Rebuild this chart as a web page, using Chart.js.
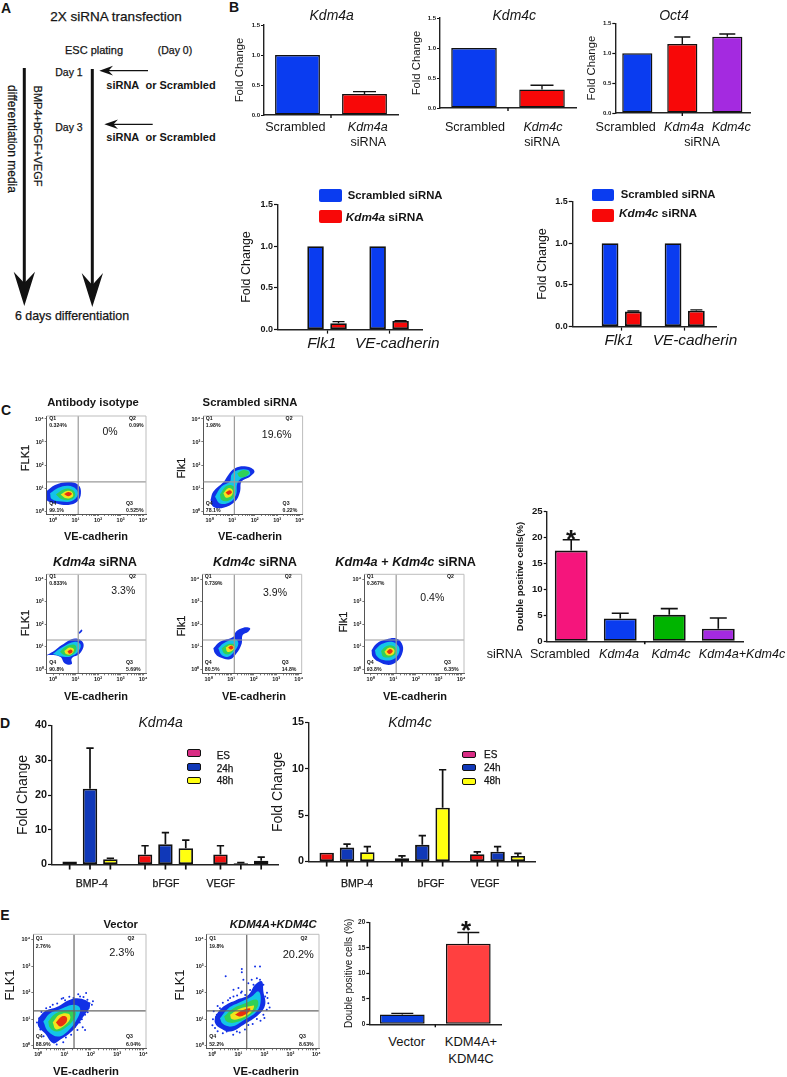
<!DOCTYPE html>
<html>
<head>
<meta charset="utf-8">
<title>siRNA figure</title>
<script src="https://cdn.jsdelivr.net/npm/chart.js@4/dist/chart.umd.min.js"></script>
<style>
  html, body { margin: 0; padding: 0; background: #fff; }
  #page { position: relative; width: 787px; height: 1077px; overflow: hidden; font-family: "Liberation Sans", Arial, sans-serif; color: #151515; }
  #page canvas { position: absolute; }
  .note { position: absolute; white-space: nowrap; line-height: 1; }
  .swatch { position: absolute; border-radius: 2px; box-sizing: border-box; }
  svg { position: absolute; left: 0; top: 0; }
</style>
</head>
<body>
<div id="page">
  <svg width="240" height="330" viewBox="0 0 240 330">
    <line x1="24.3" y1="68" x2="24.3" y2="285" stroke="#111" stroke-width="3"/>
    <polygon points="24.3,306 13.7,271.7 24.3,283 35,271.7" fill="#111"/>
    <line x1="92.3" y1="69" x2="92.3" y2="286" stroke="#111" stroke-width="3"/>
    <polygon points="92.3,307 81.7,273 92.3,285 103,273" fill="#111"/>
    <line x1="148" y1="70.7" x2="106" y2="70.7" stroke="#111" stroke-width="1.3"/>
    <polygon points="99.3,70.7 113,65.8 108.5,70.7 113,75.5" fill="#111"/>
    <line x1="152.7" y1="124.3" x2="111" y2="124.3" stroke="#111" stroke-width="1.3"/>
    <polygon points="104.3,124.3 118,119.4 113.5,124.3 118,129.1" fill="#111"/>
  </svg>
</div>
<script>
// ---- panel B, top row
const scrambledA = ['Scrambled', 'Kdm4a'];
const kdm4aKnock = [1.0, 0.35];
const kdm4aKnockTop = [null, 0.39];
const scrambledC = ['Scrambled', 'Kdm4c'];
const kdm4cKnock = [1.0, 0.31];
const kdm4cKnockTop = [null, 0.38];
const oct4Labels = ['Scrambled', 'Kdm4a', 'Kdm4c'];
const oct4Values = [1.0, 1.155, 1.275];
const oct4Top = [null, 1.27, 1.32];
// ---- panel B, bottom row
const markerLabels = ['Flk1', 'VE-cadherin'];
const scrambledA2 = [1.0, 1.0];
const kdm4aMarkers = [0.076, 0.104];
const kdm4aMarkersTop = [0.096, 0.108];
const scrambledC2 = [1.0, 1.0];
const kdm4cMarkers = [0.18, 0.19];
const kdm4cMarkersTop = [0.187, 0.2];
// ---- panel C bar
const doubleLabels = ['Scrambled', 'Kdm4a', 'Kdm4c', 'Kdm4a+Kdm4c'];
const doubleValues = [17.5, 4.4, 5.1, 2.4];
const doubleTop = [19.6, 5.4, 6.3, 4.5];
// ---- panel D
const factors = ['BMP-4', 'bFGF', 'VEGF'];
const timeNames = ['ES', '24h', '48h'];
const dAes = [0.9, 2.9, 2.9];
const dAesTop = [null, 5.4, 5.4];
const dA24 = [21.8, 5.8, 0.4];
const dA24Top = [33.5, 9.2, 0.55];
const dA48 = [1.5, 4.7, 1.1];
const dA48Top = [1.8, 7.0, 2.1];
const dCes = [0.95, 0.35, 0.78];
const dCesTop = [null, 0.6, 1.03];
const dC24 = [1.5, 1.8, 1.05];
const dC24Top = [1.87, 2.8, 1.6];
const dC48 = [1.0, 5.8, 0.6];
const dC48Top = [1.6, 9.9, 0.88];
// ---- panel E bar
const rescueLabels = ['Vector'];
const rescueValues = [1.9, 15.8];
const rescueTop = [2.15, 18];

// flow plots: density contours in decades (log10), outermost band first
const isotypeBands = [0, 1, 2, 3, 4];
const isotypeContours = [
  [[-0.28,0.87],[0.09,1.13],[0.68,1.26],[1.13,1.13],[1.24,0.77],[1.08,0.41],[0.68,0.26],[0.16,0.33],[-0.28,0.48]],
  [[-0.13,0.77],[0.24,1.01],[0.68,1.1],[1.02,0.96],[1.1,0.7],[0.83,0.43],[0.39,0.41],[-0.06,0.52]],
  [[0.13,0.72],[0.46,0.94],[0.83,0.94],[0.99,0.72],[0.83,0.51],[0.39,0.51]],
  [[0.34,0.72],[0.61,0.87],[0.86,0.81],[0.87,0.62],[0.58,0.55]],
  [[0.49,0.74],[0.68,0.83],[0.84,0.75],[0.68,0.64]]
];
const scrambledBands = [0, 1, 2, 2, 3, 4];
const scrambledContours = [
  [[0.04,0.48],[0.16,0.84],[0.61,1.25],[0.83,1.57],[1.13,1.86],[1.64,1.93],[1.99,1.74],[1.79,1.49],[1.42,1.28],[1.35,0.84],[1.13,0.41],[0.61,0.14],[0.16,0.19]],
  [[0.24,0.62],[0.53,1.06],[0.9,1.28],[0.98,1.59],[1.27,1.78],[1.72,1.78],[1.79,1.59],[1.42,1.42],[1.23,1.2],[1.17,0.7],[0.9,0.38],[0.46,0.33]],
  [[0.46,0.72],[0.76,1.1],[1.08,1.06],[1.11,0.7],[0.83,0.45],[0.53,0.48]],
  [[1.23,1.64],[1.5,1.78],[1.76,1.68],[1.57,1.49],[1.32,1.49]],
  [[0.61,0.77],[0.83,0.99],[1.02,0.91],[0.98,0.67],[0.73,0.58]],
  [[0.71,0.8],[0.9,0.9],[0.99,0.8],[0.83,0.7]]
];
const kdm4aBands = [0, 0, 1, 2, 3, 4];
const kdm4aContours = [
  [[-0.28,0.62],[0.09,0.84],[0.39,1.07],[0.98,1.36],[1.35,1.14],[1.2,0.7],[0.83,0.47],[0.83,0.22],[0.53,0.25],[0.31,0.55]],
  [[1.13,1.61],[1.27,1.76],[1.3,1.69],[1.17,1.57]],
  [[-0.01,0.67],[0.39,0.96],[0.98,1.21],[1.23,1.07],[1.08,0.73],[0.76,0.55],[0.46,0.55]],
  [[0.31,0.77],[0.61,1.02],[0.98,1.07],[1.02,0.81],[0.76,0.59],[0.49,0.62]],
  [[0.5,0.8],[0.73,0.96],[0.93,0.87],[0.79,0.65],[0.58,0.67]],
  [[0.64,0.79],[0.79,0.87],[0.87,0.77],[0.73,0.68]]
];
const kdm4cBands = [0, 1, 2, 3, 4];
const kdm4cContours = [
  [[0.21,0.92],[0.5,1.21],[1.1,1.44],[1.21,1.66],[1.54,1.84],[1.84,1.81],[1.76,1.66],[1.51,1.51],[1.47,1.14],[1.24,0.7],[0.95,0.43],[0.5,0.52],[0.28,0.7]],
  [[0.43,0.92],[0.65,1.14],[1.17,1.32],[1.32,1.14],[1.13,0.77],[0.87,0.55],[0.58,0.62]],
  [[0.58,0.92],[0.87,1.11],[1.17,1.07],[1.1,0.81],[0.87,0.65],[0.68,0.7]],
  [[0.76,0.96],[0.98,1.07],[1.14,0.96],[1.02,0.8],[0.83,0.77]],
  [[0.87,0.96],[1.02,1.04],[1.1,0.95],[0.98,0.87]]
];
const doubleBands = [0, 1, 2, 3, 4];
const doubleContours = [
  [[0.04,0.84],[0.27,1.14],[0.71,1.32],[1.13,1.36],[1.38,1.14],[1.42,0.77],[1.16,0.33],[0.79,0.18],[0.34,0.33],[0.09,0.55]],
  [[0.19,0.84],[0.49,1.11],[0.93,1.21],[1.23,1.02],[1.26,0.73],[1.01,0.43],[0.56,0.4],[0.27,0.58]],
  [[0.46,0.8],[0.71,1.02],[1.01,1.02],[1.16,0.77],[0.93,0.55],[0.56,0.55]],
  [[0.61,0.77],[0.81,0.95],[1.04,0.87],[1.01,0.67],[0.74,0.61]],
  [[0.71,0.77],[0.86,0.89],[0.98,0.79],[0.83,0.67]]
];
const vectorBands = [0, 1, 2, 3, 4];
const vectorContours = [
  [[0,1.04],[0.25,1.3],[0.7,1.46],[1.21,1.74],[1.65,1.77],[1.97,1.55],[1.72,1.11],[1.27,0.54],[0.83,0.23],[0.57,0.1],[0.25,0.48],[0,0.73]],
  [[0.19,0.92],[0.45,1.23],[0.83,1.38],[1.34,1.55],[1.59,1.42],[1.49,1.04],[1.15,0.58],[0.76,0.35],[0.38,0.54]],
  [[0.38,0.92],[0.64,1.21],[1.02,1.32],[1.4,1.3],[1.36,1.01],[1.02,0.67],[0.7,0.54],[0.45,0.67]],
  [[0.55,0.88],[0.8,1.17],[1.15,1.21],[1.21,1.01],[0.95,0.73],[0.67,0.63]],
  [[0.67,0.88],[0.89,1.11],[1.08,1.08],[1.06,0.88],[0.83,0.73]]
];
const vectorSpecks = [[0.89,1.77],[1.82,1.99],[1.72,1.84],[2.04,1.55],[1.91,1.42],[0.95,1.8],[0.45,1.46],[0.04,1.04],[1.78,0.6],[1.78,1.17],[1.59,1.86],[1.44,1.71],[1.34,1.8],[0.19,1.11],[1.95,1.61],[1.87,1.74],[1.69,0.7],[1.49,0.6],
  [0.12,1.28],[0.3,1.42],[0.55,1.55],[0.72,1.6],[1.02,1.72],[1.18,1.85],[1.52,1.94],[1.75,1.68],[2.08,1.68],[1.88,1.27],[1.66,1.0],[1.58,0.88],[1.4,0.72],[1.25,0.42],[1.05,0.32],[0.95,0.14],[0.7,0.05],[-0.05,0.88],[0.08,0.62],[0.2,0.36]];
const rescueBands = [0, 1, 2, 3, 4];
const rescueContours = [
  [[0.1,1.11],[0.42,1.48],[0.94,1.74],[1.38,1.92],[1.64,2.3],[1.9,2.43],[1.96,2.05],[2.03,1.55],[1.77,1.17],[1.19,0.79],[0.68,0.54],[0.29,0.67],[0.1,0.86]],
  [[0.29,1.04],[0.62,1.42],[1.06,1.64],[1.51,1.86],[1.77,2.05],[1.86,1.74],[1.71,1.3],[1.19,0.96],[0.74,0.73],[0.4,0.83]],
  [[0.45,1.11],[0.81,1.42],[1.26,1.61],[1.71,1.74],[1.73,1.46],[1.38,1.11],[0.87,0.88],[0.55,0.92]],
  [[0.68,1.17],[1.0,1.38],[1.38,1.48],[1.6,1.51],[1.45,1.23],[1.0,1.01],[0.74,1.01]],
  [[0.87,1.17],[1.13,1.33],[1.45,1.41],[1.38,1.26],[1.06,1.11]]
];
const rescueSpecks = [[1.13,2.89],[1.13,2.77],[1.64,2.99],[1.83,2.99],[0.51,2.62],[1.19,2.49],[1.51,2.49],[1.71,2.55],[1.83,2.49],[0.81,2.11],[1.0,2.18],[1.38,2.36],[1.26,1.92],[0.81,1.86],[0.68,1.8],[0.29,1.42],[0.17,1.17],[2.15,1.61],[2.09,1.36],[1.96,1.17],[1.71,1.01],[1.38,0.79],[0.94,0.54],[0.55,0.54],[0.1,0.67],[1.58,2.11],[1.77,2.24],[1.96,2.3],[1.58,2.3],[1.13,2.05],[2.03,1.86],
  [0.02,1.0],[0.05,1.3],[0.2,1.5],[0.4,1.62],[0.6,1.72],[0.95,1.9],[1.1,2.0],[1.45,2.1],[2.1,2.0],[2.12,1.8],[2.2,1.45],[2.0,1.05],[1.85,0.95],[1.55,0.82],[1.25,0.62],[1.05,0.5],[0.8,0.42],[0.4,0.48],[0.2,0.55],[0.0,0.78]];

const decadeLabels = ['10\u2070', '10\u00b9', '10\u00b2', '10\u00b3', '10\u2074'];
const bandColors = ['#1230e6', '#14c4e8', '#30d058', '#f2e41c', '#e8300e'];
const FONT = '"Liberation Sans", Arial, sans-serif';
const page = document.getElementById('page');
Chart.defaults.font.family = FONT;
Chart.defaults.color = '#151515';

function note(text, x, y, o) {
  o = o || {};
  const d = document.createElement('div');
  d.className = 'note';
  d.innerHTML = text;
  d.style.left = x + 'px';
  d.style.top = y + 'px';
  d.style.fontSize = (o.size || 11) + 'px';
  if (o.bold) d.style.fontWeight = 'bold';
  if (o.italic) d.style.fontStyle = 'italic';
  if (o.semi) d.style.webkitTextStroke = '0.25px #151515';
  const tx = o.left ? '0' : '-50%';
  d.style.transform = 'translate(' + tx + ',-50%)' + (o.rot ? ' rotate(' + o.rot + 'deg)' : '');
  page.appendChild(d);
}

function swatch(x1, y1, x2, y2, color, border) {
  const d = document.createElement('div');
  d.className = 'swatch';
  d.style.cssText = 'left:' + x1 + 'px;top:' + y1 + 'px;width:' + (x2 - x1) + 'px;height:' + (y2 - y1) + 'px;background:' + color + ';' + (border ? 'border:1.5px solid #111;' : '');
  page.appendChild(d);
}

// places a canvas so that the chart area lands on the given box
function placeCanvas(box, axisW, axisH) {
  const c = document.createElement('canvas');
  const L = Math.floor(box.l - axisW), T = Math.floor(box.t - 6);
  const W = Math.ceil(box.r + 6 - L), H = Math.ceil(box.b + axisH - T);
  c.width = W; c.height = H;
  c.style.left = L + 'px'; c.style.top = T + 'px';
  c.style.width = W + 'px'; c.style.height = H + 'px';
  page.appendChild(c);
  return {
    canvas: c,
    padding: { left: box.l - axisW - L, top: box.t - T, right: W - (box.r - L), bottom: 0 },
    xH: H - (box.b - T)
  };
}

// upper error bars and the odd x ticks prism leaves behind
function marksPlugin(capW, lineW, tickMode, n) {
  return {
    id: 'marks',
    afterDatasetsDraw(chart) {
      const ctx = chart.ctx, y = chart.scales.y, x = chart.scales.x;
      ctx.save();
      ctx.strokeStyle = '#111';
      ctx.lineWidth = lineW;
      chart.data.datasets.forEach((ds, i) => {
        chart.getDatasetMeta(i).data.forEach((bar, j) => {
          if (tickMode === 'bar') {
            ctx.beginPath(); ctx.moveTo(bar.x, y.bottom); ctx.lineTo(bar.x, y.bottom + 5); ctx.stroke();
          }
          const top = ds.tops && ds.tops[j];
          if (top == null) return;
          const py = y.getPixelForValue(top);
          ctx.beginPath();
          ctx.moveTo(bar.x, bar.y); ctx.lineTo(bar.x, py);
          ctx.moveTo(bar.x - capW / 2, py); ctx.lineTo(bar.x + capW / 2, py);
          ctx.stroke();
        });
      });
      if (tickMode === 'mid') {
        const px = x.getPixelForValue((n - 1) / 2);
        ctx.beginPath(); ctx.moveTo(px, y.bottom); ctx.lineTo(px, y.bottom + 3); ctx.stroke();
      }
      ctx.restore();
    }
  };
}

function barPanel(p) {
  const tf = p.titleSize;
  const axisW = p.box.l - p.titleX + 0.6 * tf;
  const place = placeCanvas(p.box, axisW, 6);
  const n = p.count;
  new Chart(place.canvas, {
    type: 'bar',
    data: {
      datasets: p.series.map(s => ({
        data: s.values.map((v, i) => ({ x: i, y: v })),
        tops: s.tops,
        backgroundColor: s.color,
        borderColor: '#111',
        borderWidth: p.barBorder || 1.5,
        borderSkipped: false
      }))
    },
    options: {
      responsive: false,
      animation: false,
      layout: { padding: place.padding },
      plugins: { legend: { display: false }, tooltip: { enabled: false } },
      datasets: { bar: { categoryPercentage: p.catPct, barPercentage: p.barPct } },
      scales: {
        x: {
          type: 'linear', offset: false, min: p.xMin, max: p.xMax,
          afterBuildTicks: s => { s.ticks = Array.from({ length: n }, (_, i) => ({ value: i })); },
          afterFit: s => { s.height = place.xH; },
          ticks: { display: false },
          grid: { offset: false, drawOnChartArea: false, drawTicks: p.tickMode === 'group', tickLength: 4, tickColor: '#111', tickWidth: 1.2 },
          border: { color: '#222', width: 1.4 }
        },
        y: {
          min: 0, max: p.yMax,
          afterFit: s => { s.width = axisW; },
          ticks: { stepSize: p.yStep, padding: 1, font: { size: p.tickSize, weight: 'bold' }, color: '#151515',
            callback: v => p.yFixed ? v.toFixed(1) : String(v) },
          grid: { drawOnChartArea: false, tickLength: p.tickLen || 3, tickColor: '#111', tickWidth: 1.2 },
          border: { color: '#222', width: 1.4 },
          title: { display: true, text: p.yTitle, padding: 0, font: { size: tf, weight: p.titleBold ? 'bold' : 'normal' }, color: '#151515' }
        }
      }
    },
    plugins: [marksPlugin(p.capW, p.errW || 1.4, p.tickMode, n)]
  });
}

function flowPanel(p) {
  const place = placeCanvas(p.box, 18, 12);
  const toPts = a => a.map(q => ({ x: q[0], y: q[1] }));
  const gateColor = p.gateColor || '#9a9a9a';
  const sets = [];
  sets.push({ data: [{ x: p.gate[0], y: p.yLim[0] }, { x: p.gate[0], y: p.yLim[1] }], showLine: true, pointRadius: 0, borderColor: gateColor, borderWidth: 1.2, order: 0 });
  sets.push({ data: [{ x: p.xLim[0], y: p.gate[1] }, { x: p.xLim[1], y: p.gate[1] }], showLine: true, pointRadius: 0, borderColor: gateColor, borderWidth: 1.2, order: 0 });
  p.contours.forEach((c, i) => {
    const pts = toPts(c.concat([c[0]]));
    sets.push({ data: pts, showLine: true, pointRadius: 0, tension: 0.4, borderWidth: 0, borderColor: bandColors[p.bands[i]], backgroundColor: bandColors[p.bands[i]], fill: 'shape', order: 50 - i });
  });
  if (p.specks) sets.push({ data: toPts(p.specks), pointRadius: 1, pointBackgroundColor: '#1230e6', pointBorderWidth: 0, showLine: false, order: 60 });
  new Chart(place.canvas, {
    type: 'scatter',
    data: { datasets: sets },
    options: {
      responsive: false,
      animation: false,
      layout: { padding: place.padding },
      plugins: { legend: { display: false }, tooltip: { enabled: false } },
      scales: {
        x: {
          type: 'linear', min: p.xLim[0], max: p.xLim[1],
          afterBuildTicks: s => {
            const t = [];
            for (let d = 0; d < 5; d++) {
              t.push({ value: d });
              if (d < 4) for (let m = 2; m < 10; m++) t.push({ value: d + Math.log10(m) });
            }
            s.ticks = t;
          },
          afterFit: s => { s.height = place.xH; },
          ticks: { autoSkip: false, maxRotation: 0, padding: 1, font: { size: 5.5, weight: 'bold' }, color: '#151515',
            callback: v => Number.isInteger(v) ? decadeLabels[v] : '' },
          grid: { drawOnChartArea: false, tickLength: 2, tickColor: '#444', tickWidth: 0.7 },
          border: { color: '#555', width: 1 }
        },
        y: {
          type: 'linear', min: p.yLim[0], max: p.yLim[1],
          afterBuildTicks: s => { s.ticks = decadeLabels.map((_, i) => ({ value: i })); },
          afterFit: s => { s.width = 18; },
          ticks: { padding: 1, font: { size: 5.5, weight: 'bold' }, color: '#151515', callback: v => decadeLabels[v] },
          grid: { drawOnChartArea: false, tickLength: 2, tickColor: '#444', tickWidth: 0.7 },
          border: { color: '#555', width: 1 }
        }
      }
    },
    plugins: [{
      id: 'frame',
      afterDraw(chart) {
        const a = chart.chartArea, ctx = chart.ctx;
        ctx.save();
        ctx.strokeStyle = '#bdbdbd';
        ctx.lineWidth = 1;
        ctx.beginPath();
        ctx.moveTo(a.left, a.top); ctx.lineTo(a.right, a.top); ctx.lineTo(a.right, a.bottom);
        ctx.stroke();
        ctx.restore();
      }
    }]
  });
  const b = p.box, g = p.qGap || 0;
  const qs = { size: 5.2, bold: true, left: true };
  note('Q1', b.l + 2.5, b.t + 3 + g, qs); note(p.quads[0], b.l + 2.5, b.t + 10 + g * 2, qs);
  note('Q2', b.r - 17 - g, b.t + 3 + g, qs); if (p.quads[1]) note(p.quads[1], b.r - 17 - g, b.t + 10 + g * 2, qs);
  note('Q3', b.r - 20, b.b - 10 - g, qs); note(p.quads[2], b.r - 20, b.b - 3 - g / 2, qs);
  note('Q4', b.l + 2.5, b.b - 10 - g, qs); note(p.quads[3], b.l + 2.5, b.b - 3 - g / 2, qs);
}

// ---------- panel A text
note('A', 6, 8, { size: 14, bold: true });
note('2X siRNA transfection', 116, 17, { size: 13.5, semi: true });
note('ESC plating', 94, 50, { size: 11, semi: true });
note('(Day 0)', 175, 50, { size: 10.5, semi: true });
note('Day 1', 69, 72, { size: 10.5, semi: true });
note('Day 3', 69, 127, { size: 10.5, semi: true });
note('siRNA&nbsp; or Scrambled', 161, 85, { size: 11, bold: true });
note('siRNA&nbsp; or Scrambled', 161, 137, { size: 11, bold: true });
note('BMP4+bFGF+VEGF', 36.7, 136, { size: 11, semi: true, rot: 90 });
note('differentiation media', 12.3, 139, { size: 12, semi: true, rot: 90 });
note('6 days differentiation', 72, 316, { size: 12.4, semi: true });

// ---------- panel B top
note('B', 234, 7, { size: 14, bold: true });
const smallBars = { yMax: 1.5, yStep: 0.5, yFixed: true, tickSize: 6, yTitle: 'Fold Change', titleSize: 11.3, tickMode: 'mid', catPct: 1, barPct: 0.67, capW: 23 };
barPanel(Object.assign({}, smallBars, {
  box: { l: 264, t: 25, r: 398, b: 115 }, titleX: 239.5, count: scrambledA.length,
  xMin: -0.5, xMax: 1.5,
  series: [{ values: kdm4aKnock, tops: kdm4aKnockTop, color: ['#0a3cf0', '#f80808'] }]
}));
barPanel(Object.assign({}, smallBars, {
  box: { l: 440, t: 18, r: 576, b: 108 }, titleX: 417, count: scrambledC.length,
  xMin: -0.5, xMax: 1.5,
  series: [{ values: kdm4cKnock, tops: kdm4cKnockTop, color: ['#0a3cf0', '#f80808'] }]
}));
barPanel(Object.assign({}, smallBars, {
  box: { l: 615.3, t: 23.3, r: 750, b: 113 }, titleX: 592, count: oct4Labels.length,
  xMin: -0.489, xMax: 2.504, capW: 16,
  series: [{ values: oct4Values, tops: oct4Top, color: ['#0a3cf0', '#f80808', '#a42ae0'] }]
}));
note('<i>Kdm4a</i>', 331.7, 15, { size: 14 });
note('<i>Kdm4c</i>', 514.3, 15, { size: 14 });
note('<i>Oct4</i>', 674, 15, { size: 14 });
const lab = { size: 12.6 };
note(scrambledA[0], 295.3, 126.7, lab); note('<i>' + scrambledA[1] + '</i>', 367.7, 126.7, lab); note('siRNA', 368.3, 142, lab);
note(scrambledC[0], 475, 126.7, lab); note('<i>' + scrambledC[1] + '</i>', 543, 126.7, lab); note('siRNA', 542, 142, lab);
note(oct4Labels[0], 625.7, 126.7, lab); note('<i>' + oct4Labels[1] + '</i>', 684, 126.7, lab); note('<i>' + oct4Labels[2] + '</i>', 731.3, 126.7, lab); note('siRNA', 702, 142, lab);

// ---------- panel B bottom
const groupBars = { yMax: 1.5, yStep: 0.5, yFixed: true, tickSize: 9, yTitle: 'Fold Change', titleSize: 12.5, tickMode: 'group', tickLen: 4, catPct: 0.74, barPct: 0.72, capW: 12, barBorder: 1.8, count: markerLabels.length };
barPanel(Object.assign({}, groupBars, {
  box: { l: 278, t: 204, r: 422, b: 330 }, titleX: 246.7, xMin: -0.79, xMax: 1.53,
  series: [
    { values: scrambledA2, color: '#0a3cf0' },
    { values: kdm4aMarkers, tops: kdm4aMarkersTop, color: '#f80808' }
  ]
}));
barPanel(Object.assign({}, groupBars, {
  box: { l: 572.7, t: 201, r: 716.7, b: 326.7 }, titleX: 542.7, xMin: -0.778, xMax: 1.508,
  series: [
    { values: scrambledC2, color: '#0a3cf0' },
    { values: kdm4cMarkers, tops: kdm4cMarkersTop, color: '#f80808' }
  ]
}));
const it15 = { size: 15.4, italic: true };
note(markerLabels[0], 321.7, 343.3, it15); note(markerLabels[1], 397.3, 343.3, it15);
note(markerLabels[0], 619, 340, it15); note(markerLabels[1], 695, 340, it15);
swatch(319.3, 189.3, 341.7, 202, '#0a3cf0'); swatch(319.3, 210, 341.7, 222.7, '#f80808');
note('Scrambled siRNA', 347.7, 195.7, { size: 11.3, bold: true, left: true });
note('<i>Kdm4a</i> siRNA', 345.7, 217.7, { size: 11.8, bold: true, left: true });
swatch(591.7, 189, 614, 201, '#0a3cf0'); swatch(591.7, 209.3, 614, 222, '#f80808');
note('Scrambled siRNA', 620.7, 195, { size: 11.3, bold: true, left: true });
note('<i>Kdm4c</i> siRNA', 619, 214, { size: 11.8, bold: true, left: true });

// ---------- panel C flow plots
note('C', 6, 410, { size: 14, bold: true });
const topY = [-0.13, 4.13], lowY = [-0.19, 4.21], cX = [-0.28, 4.13];
flowPanel({ box: { l: 46.7, t: 416, r: 146, b: 514 }, xLim: cX, yLim: topY, gate: [1.12, 1.27], contours: isotypeContours, bands: isotypeBands, quads: ['0.324%', '0.09%', '0.525%', '99.1%'] });
flowPanel({ box: { l: 203.3, t: 416, r: 302.6, b: 514 }, xLim: cX, yLim: topY, gate: [1.1, 1.27], contours: scrambledContours, bands: scrambledBands, quads: ['1.98%', '', '0.22%', '78.1%'] });
flowPanel({ box: { l: 46.7, t: 574.3, r: 146, b: 673.3 }, xLim: cX, yLim: lowY, gate: [1.12, 1.29], contours: kdm4aContours, bands: kdm4aBands, quads: ['0.833%', '', '5.69%', '90.8%'] });
flowPanel({ box: { l: 202.3, t: 574.3, r: 301.7, b: 673.3 }, xLim: cX, yLim: lowY, gate: [1.14, 1.29], contours: kdm4cContours, bands: kdm4cBands, quads: ['0.739%', '', '14.8%', '80.5%'] });
flowPanel({ box: { l: 364.3, t: 574.3, r: 464, b: 673.3 }, xLim: cX, yLim: lowY, gate: [1.13, 1.29], contours: doubleContours, bands: doubleBands, quads: ['0.367%', '', '6.35%', '93.8%'] });

const head = { size: 11.3, bold: true };
const head2 = { size: 12.7, bold: true };
note('Antibody isotype', 93, 402.7, head);
note('Scrambled siRNA', 250, 403, head);
note('<i>Kdm4a</i> siRNA', 95, 562.3, head2);
note('<i>Kdm4c</i> siRNA', 255, 562.3, head2);
note('<i>Kdm4a</i> + <i>Kdm4c</i> siRNA', 405.7, 562.3, head2);
const ylab = { size: 11, semi: true, rot: -90 };
note('FLK1', 25, 458, ylab); note('Flk1', 180.7, 467.7, ylab);
note('FLK1', 25, 622.7, ylab); note('Flk1', 180.7, 625.7, ylab); note('Flk1', 342.7, 622, ylab);
const pct = { size: 10.5 };
note('0%', 110, 431, pct); note('19.6%', 276.7, 434, pct);
note('3.3%', 123.3, 590, pct); note('3.9%', 275, 591.7, pct); note('0.4%', 432.3, 596.7, pct);
const vec = { size: 11, bold: true };
note('VE-cadherin', 96, 536, vec); note('VE-cadherin', 250, 536, vec);
note('VE-cadherin', 96, 695.7, vec); note('VE-cadherin', 254, 695.7, vec); note('VE-cadherin', 415, 695.7, vec);

// ---------- panel C bar
barPanel({
  box: { l: 546.7, t: 511.7, r: 743.3, b: 642 }, yMax: 25, yStep: 5, tickSize: 9.6, yTitle: 'Double positive cells(%)', titleSize: 9.5, titleBold: true,
  titleX: 520.7, tickMode: 'mid', count: doubleLabels.length, xMin: -0.5, xMax: 3.51, catPct: 1, barPct: 0.67, capW: 17, barBorder: 1.8, errW: 1.6,
  series: [{ values: doubleValues, tops: doubleTop, color: ['#f5157c', '#0a3cf0', '#00b400', '#a42ae0'] }]
});
note('siRNA', 504.5, 654, lab);
note(doubleLabels[0], 560, 654, lab);
note('<i>' + doubleLabels[1] + '</i>', 619, 654, lab);
note('<i>' + doubleLabels[2] + '</i>', 671, 654, lab);
note('<i>' + doubleLabels[3] + '</i>', 742, 654, lab);
note('*', 571, 538.5, { size: 26, bold: true });

// ---------- panel D
note('D', 5, 723, { size: 14, bold: true });
const timeBars = { yTitle: 'Fold Change', titleSize: 14, tickSize: 10.8, tickMode: 'bar', tickLen: 4, count: factors.length, catPct: 0.81, barPct: 0.71, capW: 7.3, barBorder: 1.8, errW: 1.7 };
barPanel(Object.assign({}, timeBars, {
  box: { l: 52, t: 724, r: 278, b: 865.3 }, titleX: 22.7, yMax: 40, yStep: 10, xMin: -0.504, xMax: 2.493,
  series: [
    { values: dAes, tops: dAesTop, color: '#f01010' },
    { values: dA24, tops: dA24Top, color: '#1038b8' },
    { values: dA48, tops: dA48Top, color: '#ffff10' }
  ]
}));
barPanel(Object.assign({}, timeBars, {
  box: { l: 309, t: 721, r: 535, b: 862.7 }, titleX: 278.3, yMax: 15, yStep: 5, xMin: -0.505, xMax: 2.497,
  series: [
    { values: dCes, tops: dCesTop, color: '#f01010' },
    { values: dC24, tops: dC24Top, color: '#1038b8' },
    { values: dC48, tops: dC48Top, color: '#ffff10' }
  ]
}));
note('<i>Kdm4a</i>', 160.7, 722.3, { size: 14 });
note('<i>Kdm4c</i>', 410, 722, { size: 14 });
const facLab = { size: 10.5, semi: true };
note(factors[0], 91.7, 883, facLab); note(factors[1], 166, 883, facLab); note(factors[2], 220.7, 883, facLab);
note(factors[0], 357, 883, facLab); note(factors[1], 431, 883, facLab); note(factors[2], 485, 883, facLab);
const legY = { size: 10, semi: true, left: true };
swatch(186.7, 749.3, 200.7, 756.7, '#d92c84', true); swatch(186.7, 763, 200.7, 770.7, '#1038b8', true); swatch(186.7, 777, 200.7, 784, '#ffff10', true);
note(timeNames[0], 216.7, 755.7, legY); note(timeNames[1], 216.7, 769, legY); note(timeNames[2], 216.7, 781.3, legY);
swatch(462.3, 751, 475.7, 757.6, '#d92c84', true); swatch(462.3, 764.3, 475.7, 771, '#1038b8', true); swatch(462.3, 778.3, 475.7, 785, '#ffff10', true);
note(timeNames[0], 484, 755, legY); note(timeNames[1], 484, 768.3, legY); note(timeNames[2], 484, 781, legY);

// ---------- panel E
note('E', 5, 915, { size: 14, bold: true });
flowPanel({ box: { l: 33.3, t: 934.3, r: 146, b: 1048.3 }, xLim: [-0.19, 4.1], yLim: [-0.09, 4.2], gate: [1.36, 1.32], gateColor: '#666', contours: vectorContours, bands: vectorBands, specks: vectorSpecks, quads: ['2.76%', '', '6.04%', '88.9%'], qGap: 1.5 });
flowPanel({ box: { l: 206.7, t: 934.3, r: 319, b: 1048.3 }, xLim: [-0.22, 4.1], yLim: [-0.09, 4.2], gate: [1.32, 1.32], gateColor: '#666', contours: rescueContours, bands: rescueBands, specks: rescueSpecks, quads: ['19.8%', '', '8.63%', '52.2%'], qGap: 1.5 });
note('Vector', 120.7, 925, head);
note('<i>KDM4A+KDM4C</i>', 273.3, 925, head);
const ylab2 = { size: 13, rot: -90 };
note('FLK1', 8.8, 984.7, ylab2); note('FLK1', 179, 984.7, ylab2);
note('2.3%', 121.7, 951.7, { size: 11 }); note('20.2%', 298.3, 954.3, { size: 11 });
note('VE-cadherin', 86, 1071.7, { size: 11.3, bold: true }); note('VE-cadherin', 266, 1071.7, { size: 11.3, bold: true });

barPanel({
  box: { l: 369.3, t: 922.3, r: 501.7, b: 1024.3 }, yMax: 20, yStep: 5, tickSize: 6.5, yTitle: 'Double positive cells (%)', titleSize: 10,
  titleX: 349, tickMode: 'mid', count: rescueValues.length, xMin: -0.5, xMax: 1.506, catPct: 1, barPct: 0.677, capW: 22,
  series: [{ values: rescueValues, tops: rescueTop, color: ['#0a40e0', '#ff4040'] }]
});
note(rescueLabels[0], 406.7, 1041, { size: 13 });
note('KDM4A+', 471, 1041, { size: 13 });
note('KDM4C', 471, 1058, { size: 13 });
note('*', 466, 930, { size: 26, bold: true });
</script>
</body>
</html>
